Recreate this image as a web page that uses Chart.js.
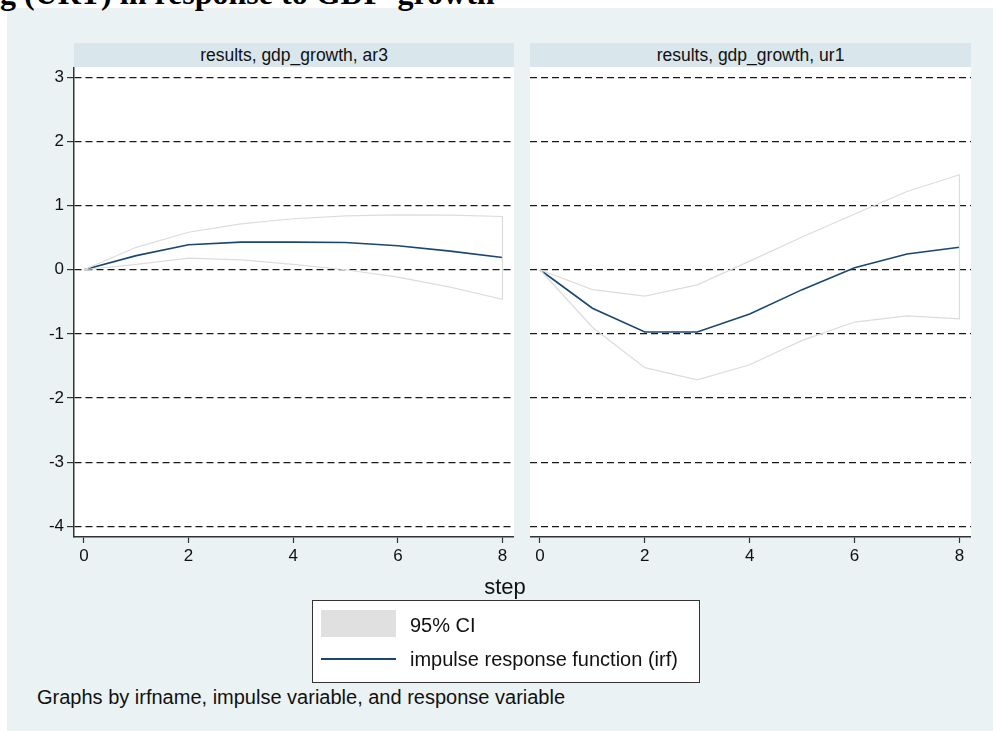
<!DOCTYPE html>
<html lang="en">
<head>
    <meta charset="UTF-8">
    <title>IRF - URT response to GDP growth</title>
    <script src="https://cdn.jsdelivr.net/npm/chart.js"></script>
    <style>
        body {
            margin: 0;
            width: 993px;
            height: 731px;
            overflow: hidden;
            position: relative;
            background: #ffffff;
            font-family: "Liberation Sans", Arial, sans-serif;
            color: #111;
        }
        .abs { position: absolute; }
        #bg { left: 7px; top: 8px; right: 0; bottom: 0; background: #EAF2F3; }
        #title {
            left: 0; top: -23px;
            font: bold 32px "Liberation Serif", "Times New Roman", serif;
            line-height: 32px;
            white-space: pre;
            color: #000;
        }
        .strip {
            top: 43px; height: 24px;
            background: #D9E6EB;
            font-size: 17.5px;
            line-height: 24px;
            text-align: center;
        }
        .panel { top: 67px; height: 510px; }
        #step { left: 405px; width: 200px; top: 576px; text-align: center; font-size: 22px; line-height: 22px; }
        #legend {
            left: 312px; top: 600px; width: 388px; height: 83px;
            box-sizing: border-box;
            border: 1px solid #333;
            background: #fff;
        }
        #legend .txt { font-size: 20px; line-height: 24px; white-space: nowrap; }
        #note { left: 37px; top: 687px; font-size: 20px; line-height: 20px; white-space: nowrap; }
    </style>
</head>
<body>
    <div id="bg" class="abs"></div>
    <div id="title" class="abs">g (URT) in response to GDP  growth</div>

    <div class="abs strip" style="left:74px; width:440px;">results, gdp_growth, ar3</div>
    <div class="abs strip" style="left:530px; width:441px;">results, gdp_growth, ur1</div>

    <div class="abs panel" style="left:0; width:514px;"><canvas id="ar3Chart" width="514" height="510"></canvas></div>
    <div class="abs panel" style="left:530px; width:441px;"><canvas id="ur1Chart" width="441" height="510"></canvas></div>

    <div id="step" class="abs">step</div>

    <div id="legend" class="abs">
        <div class="abs" style="left:8px; top:9px; width:75px; height:27px; background:#E0E0E0;"></div>
        <div class="abs txt" style="left:97px; top:12px;">95% CI</div>
        <div class="abs" style="left:8px; top:57px; width:75px; height:2px; background:#1A476F;"></div>
        <div class="abs txt" style="left:97px; top:46px;">impulse response function (irf)</div>
    </div>

    <div id="note" class="abs">Graphs by irfname, impulse variable, and response variable</div>

    <script>
        // step = horizon of the impulse response
        const steps = [0, 1, 2, 3, 4, 5, 6, 7, 8];

        // panel 1: results, gdp_growth, ar3
        const ar3Irf   = [0, 0.22, 0.39, 0.43, 0.43, 0.425, 0.375, 0.29, 0.19];
        const ar3Upper = [0, 0.35, 0.585, 0.715, 0.795, 0.84, 0.855, 0.85, 0.83];
        const ar3Lower = [0, 0.085, 0.18, 0.155, 0.085, 0.0, -0.115, -0.27, -0.46];

        // panel 2: results, gdp_growth, ur1
        const ur1Irf   = [0, -0.60, -0.97, -0.97, -0.69, -0.31, 0.03, 0.245, 0.35];
        const ur1Upper = [0, -0.31, -0.41, -0.235, 0.135, 0.51, 0.87, 1.22, 1.48];
        const ur1Lower = [0, -0.895, -1.525, -1.715, -1.48, -1.10, -0.815, -0.72, -0.765];

        const xTicks = [0, 2, 4, 6, 8];
        const yTicks = [-4, -3, -2, -1, 0, 1, 2, 3];

        const fontFamily = '"Liberation Sans", Arial, sans-serif';
        const navy = '#1A476F';
        const ciGray = '#DCDCDC';

        // white plot region like Stata's plotregion
        const plotBg = {
            id: 'plotBg',
            beforeDraw(chart) {
                const { ctx, chartArea: a } = chart;
                ctx.save();
                ctx.fillStyle = '#ffffff';
                ctx.fillRect(a.left, a.top, a.right - a.left, a.bottom - a.top);
                ctx.restore();
            }
        };

        function pts(ys) {
            return steps.map((s, i) => ({ x: s, y: ys[i] }));
        }

        // CI drawn as an outline: upper band out, lower band back
        function ciOutline(upper, lower) {
            return pts(upper).concat(pts(lower).reverse());
        }

        function makeChart(id, irf, upper, lower, showY) {
            return new Chart(document.getElementById(id), {
                type: 'scatter',
                data: {
                    datasets: [
                        {
                            label: '95% CI',
                            data: ciOutline(upper, lower),
                            showLine: true,
                            borderColor: ciGray,
                            borderWidth: 1.2,
                            pointRadius: 0,
                            fill: false
                        },
                        {
                            label: 'impulse response function (irf)',
                            data: pts(irf),
                            showLine: true,
                            borderColor: navy,
                            borderWidth: 1.6,
                            pointRadius: 0,
                            fill: false
                        }
                    ]
                },
                options: {
                    responsive: false,
                    animation: false,
                    layout: { padding: 0 },
                    plugins: { legend: { display: false }, tooltip: { enabled: false } },
                    scales: {
                        x: {
                            type: 'linear',
                            min: -0.19,
                            max: 8.22,
                            afterBuildTicks: s => { s.ticks = xTicks.map(v => ({ value: v })); },
                            afterFit: s => { s.height = 40; s.paddingLeft = 0; s.paddingRight = 0; },
                            grid: { drawOnChartArea: false, drawTicks: true, tickLength: 6, tickColor: '#333', tickWidth: 1.2 },
                            border: { display: true, color: '#333', width: 1.5 },
                            ticks: { color: '#111', font: { size: 17, family: fontFamily }, padding: 3, maxRotation: 0, autoSkip: false }
                        },
                        y: {
                            type: 'linear',
                            min: -4.165,
                            max: 3.16,
                            afterBuildTicks: s => { s.ticks = yTicks.map(v => ({ value: v })); },
                            afterFit: s => { s.width = showY ? 74 : 0; s.paddingTop = 0; s.paddingBottom = 0; },
                            grid: { color: '#1a1a1a', lineWidth: 1.2, drawTicks: showY, tickLength: 7, tickColor: '#333', tickWidth: 1.2 },
                            border: { display: showY, color: '#333', width: 1.5, dash: [7, 4] },
                            ticks: { display: showY, color: '#111', font: { size: 17, family: fontFamily }, padding: 3 }
                        }
                    }
                },
                plugins: [plotBg]
            });
        }

        makeChart('ar3Chart', ar3Irf, ar3Upper, ar3Lower, true);
        makeChart('ur1Chart', ur1Irf, ur1Upper, ur1Lower, false);
    </script>
</body>
</html>
